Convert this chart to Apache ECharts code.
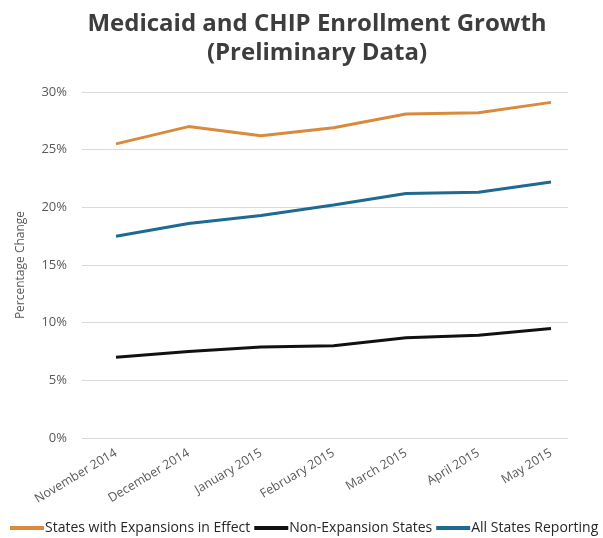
<!DOCTYPE html>
<html>
<head>
<meta charset="utf-8">
<script src="https://cdn.jsdelivr.net/npm/echarts@6/dist/echarts.min.js"></script>
<style>
  html, body { margin: 0; padding: 0; background: #ffffff; }
  #chart { width: 603px; height: 538px; }
</style>
</head>
<body>
<div id="chart"></div>
<script>
// Monthly enrollment growth (percent change)
const months = ['November 2014', 'December 2014', 'January 2015', 'February 2015', 'March 2015', 'April 2015', 'May 2015'];
const expansionStates = [25.5, 27.0, 26.2, 26.9, 28.1, 28.2, 29.1];
const nonExpansionStates = [7.0, 7.5, 7.9, 8.0, 8.7, 8.9, 9.5];
const allStates = [17.5, 18.6, 19.3, 20.2, 21.2, 21.3, 22.2];
const yTicks = [0, 5, 10, 15, 20, 25, 30];

const COLORS = { expansion: '#D98A3D', nonExpansion: '#111111', all: '#1F6A90' };
const FONT = '"Open Sans", "Noto Sans", sans-serif';

const chart = echarts.init(document.getElementById('chart'), null, { renderer: 'canvas' });

const lineSeries = (name, data, color) => ({
  name,
  type: 'line',
  xAxisIndex: 1,
  yAxisIndex: 1,
  data,
  symbol: 'none',
  smooth: false,
  lineStyle: { color, width: 3 },
  itemStyle: { color },
  animation: false
});

chart.setOption({
  backgroundColor: '#ffffff',
  animation: false,
  title: {
    text: 'Medicaid and CHIP Enrollment Growth\n(Preliminary Data)',
    left: 312,
    top: 5,
    textAlign: 'center',
    textStyle: {
      fontFamily: FONT,
      fontWeight: 'bold',
      fontSize: 24,
      lineHeight: 29,
      color: '#3d3d3d'
    }
  },
  legend: {
    left: 10,
    top: 521,
    width: 600,
    padding: 0,
    itemWidth: 34,
    itemHeight: 4,
    itemGap: 4,
    icon: 'rect',
    textStyle: { fontFamily: FONT, fontSize: 14, color: '#262626', padding: [0, 0, 0, -4] },
    data: ['States with Expansions in Effect', 'Non-Expansion States', 'All States Reporting']
  },
  grid: [
    // frame carrying the percentage grid lines and tick labels
    { left: 82, right: 35, top: 92, bottom: 100 },
    // plotting frame, spanning first to last month
    { left: 116, right: 52, top: 92, bottom: 100 }
  ],
  xAxis: [
    { type: 'category', gridIndex: 0, data: months, show: false },
    {
      type: 'category',
      gridIndex: 1,
      data: months,
      boundaryGap: false,
      axisLine: { show: false },
      axisTick: { show: false },
      axisLabel: {
        rotate: 31,
        margin: 14,
        fontFamily: FONT,
        fontSize: 12.5,
        color: '#595959',
        interval: 0
      }
    }
  ],
  yAxis: [
    {
      type: 'value',
      gridIndex: 0,
      min: yTicks[0],
      max: yTicks[yTicks.length - 1],
      interval: 5,
      name: 'Percentage Change',
      nameLocation: 'middle',
      nameGap: 55,
      nameTextStyle: { fontFamily: FONT, fontSize: 12, color: '#595959' },
      axisLine: { show: false },
      axisTick: { show: false },
      axisLabel: {
        margin: 15,
        fontFamily: FONT,
        fontSize: 13,
        color: '#595959',
        formatter: v => v + '%'
      },
      splitLine: { lineStyle: { color: '#d9d9d9', width: 1 } }
    },
    {
      type: 'value',
      gridIndex: 1,
      min: yTicks[0],
      max: yTicks[yTicks.length - 1],
      interval: 5,
      show: false,
      splitLine: { show: false }
    }
  ],
  series: [
    lineSeries('States with Expansions in Effect', expansionStates, COLORS.expansion),
    lineSeries('Non-Expansion States', nonExpansionStates, COLORS.nonExpansion),
    lineSeries('All States Reporting', allStates, COLORS.all)
  ]
});
</script>
</body>
</html>
